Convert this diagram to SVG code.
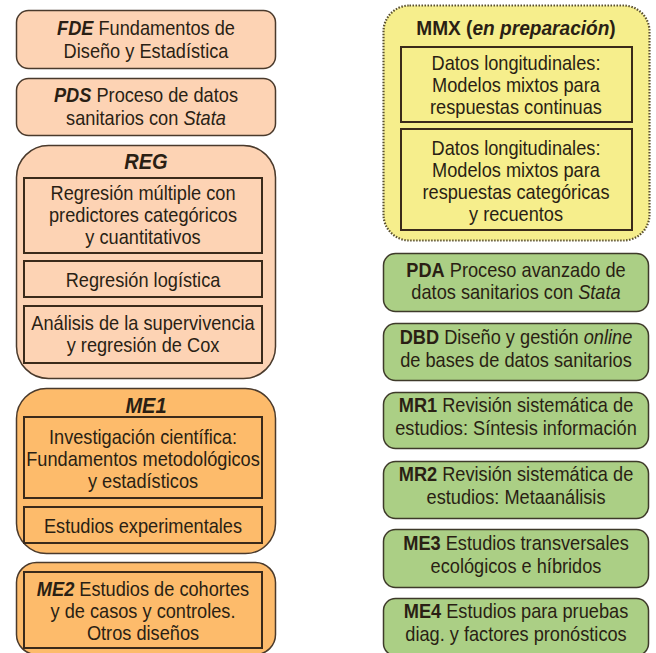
<svg xmlns="http://www.w3.org/2000/svg" width="656" height="653" viewBox="0 0 656 653">
<style>
text{font-family:"Liberation Sans",Arial,sans-serif;font-size:20px;fill:#2a1f14;text-anchor:middle}
.b{font-weight:bold}
.i{font-style:italic}
.t{font-size:22px;font-weight:bold;font-style:italic}
.m{font-size:21px}
.peach{fill:#FDD3B4;stroke:#4a3a2c;stroke-width:1.5}
.orange{fill:#FDBB6B;stroke:#4a3a2c;stroke-width:1.5}
.green{fill:#ABCF85;stroke:#3e3a2a;stroke-width:1.5}
.yellow{fill:#F6EE8C;stroke:#5a5030;stroke-width:2.2;stroke-dasharray:1.5 1.5}
.inner{fill:none;stroke:#3a2a1a;stroke-width:2}
</style>
<rect width="656" height="653" fill="#ffffff"/>

<g id="FDE">
<rect class="peach" x="16.5" y="10.5" width="259" height="58" rx="12"/>
<text transform="translate(146,35) scale(.91,1)"><tspan class="b i">FDE</tspan> Fundamentos de</text>
<text transform="translate(146,58) scale(.91,1)">Diseño y Estadística</text>
</g>

<g id="PDS">
<rect class="peach" x="16.5" y="78.5" width="259" height="57" rx="12"/>
<text transform="translate(146,102) scale(.91,1)"><tspan class="b i">PDS</tspan> Proceso de datos</text>
<text transform="translate(146,125) scale(.91,1)">sanitarios con <tspan class="i">Stata</tspan></text>
</g>

<g id="REG">
<rect class="peach" x="16.5" y="145.5" width="259" height="233" rx="32"/>
<text class="t" transform="translate(146,169) scale(.91,1)">REG</text>
<rect class="inner" x="24" y="178" width="238" height="75"/>
<text transform="translate(143,200) scale(.91,1)">Regresión múltiple con</text>
<text transform="translate(143,222) scale(.91,1)">predictores categóricos</text>
<text transform="translate(143,244) scale(.91,1)">y cuantitativos</text>
<rect class="inner" x="24" y="261" width="238" height="36"/>
<text transform="translate(143,287) scale(.91,1)">Regresión logística</text>
<rect class="inner" x="24" y="306" width="238" height="57"/>
<text transform="translate(143,330) scale(.91,1)">Análisis de la supervivencia</text>
<text transform="translate(143,352) scale(.91,1)">y regresión de Cox</text>
</g>

<g id="ME1">
<rect class="orange" x="16.5" y="388.5" width="259" height="165" rx="30"/>
<text class="t" transform="translate(146,413) scale(.91,1)">ME1</text>
<rect class="inner" x="24" y="417" width="238" height="81"/>
<text transform="translate(143,444) scale(.91,1)">Investigación científica:</text>
<text transform="translate(143,466) scale(.91,1)">Fundamentos metodológicos</text>
<text transform="translate(143,488) scale(.91,1)">y estadísticos</text>
<rect class="inner" x="24" y="507" width="238" height="36"/>
<text transform="translate(143,533) scale(.91,1)">Estudios experimentales</text>
</g>

<g id="ME2">
<rect class="orange" x="16.5" y="562.5" width="259" height="92" rx="20"/>
<rect class="inner" x="24" y="572" width="238" height="76"/>
<text transform="translate(143,596) scale(.91,1)"><tspan class="b i">ME2</tspan> Estudios de cohortes</text>
<text transform="translate(143,618) scale(.91,1)">y de casos y controles.</text>
<text transform="translate(143,640) scale(.91,1)">Otros diseños</text>
</g>

<g id="MMX">
<rect class="yellow" x="383.5" y="5.5" width="266" height="235" rx="26"/>
<text class="m" transform="translate(516,35) scale(.91,1)"><tspan class="b">MMX (</tspan><tspan class="b i">en preparación</tspan><tspan class="b">)</tspan></text>
<rect class="inner" x="401" y="47" width="231" height="75"/>
<text transform="translate(516,70) scale(.91,1)">Datos longitudinales:</text>
<text transform="translate(516,92) scale(.91,1)">Modelos mixtos para</text>
<text transform="translate(516,114) scale(.91,1)">respuestas continuas</text>
<rect class="inner" x="401" y="129" width="231" height="101"/>
<text transform="translate(516,155) scale(.91,1)">Datos longitudinales:</text>
<text transform="translate(516,177) scale(.91,1)">Modelos mixtos para</text>
<text transform="translate(516,199) scale(.91,1)">respuestas categóricas</text>
<text transform="translate(516,221) scale(.91,1)">y recuentos</text>
</g>

<g id="PDA">
<rect class="green" x="383.5" y="253.5" width="265" height="58" rx="12"/>
<text transform="translate(516,277) scale(.91,1)"><tspan class="b">PDA</tspan> Proceso avanzado de</text>
<text transform="translate(516,299) scale(.91,1)">datos sanitarios con <tspan class="i">Stata</tspan></text>
</g>

<g id="DBD">
<rect class="green" x="383.5" y="323.5" width="265" height="57" rx="12"/>
<text transform="translate(516,344) scale(.91,1)"><tspan class="b">DBD</tspan> Diseño y gestión <tspan class="i">online</tspan></text>
<text transform="translate(516,367) scale(.91,1)">de bases de datos sanitarios</text>
</g>

<g id="MR1">
<rect class="green" x="383.5" y="392.5" width="265" height="56" rx="12"/>
<text transform="translate(516,412) scale(.91,1)"><tspan class="b">MR1</tspan> Revisión sistemática de</text>
<text transform="translate(516,435) scale(.91,1)">estudios: Síntesis información</text>
</g>

<g id="MR2">
<rect class="green" x="383.5" y="461.5" width="265" height="57" rx="12"/>
<text transform="translate(516,481) scale(.91,1)"><tspan class="b">MR2</tspan> Revisión sistemática de</text>
<text transform="translate(516,504) scale(.91,1)">estudios: Metaanálisis</text>
</g>

<g id="ME3">
<rect class="green" x="383.5" y="529.5" width="265" height="58" rx="12"/>
<text transform="translate(516,550) scale(.91,1)"><tspan class="b">ME3</tspan> Estudios transversales</text>
<text transform="translate(516,573) scale(.91,1)">ecológicos e híbridos</text>
</g>

<g id="ME4">
<rect class="green" x="383.5" y="598.5" width="265" height="57" rx="12"/>
<text transform="translate(516,618) scale(.91,1)"><tspan class="b">ME4</tspan> Estudios para pruebas</text>
<text transform="translate(516,641) scale(.91,1)">diag. y factores pronósticos</text>
</g>

<g id="connectors"></g>
</svg>
